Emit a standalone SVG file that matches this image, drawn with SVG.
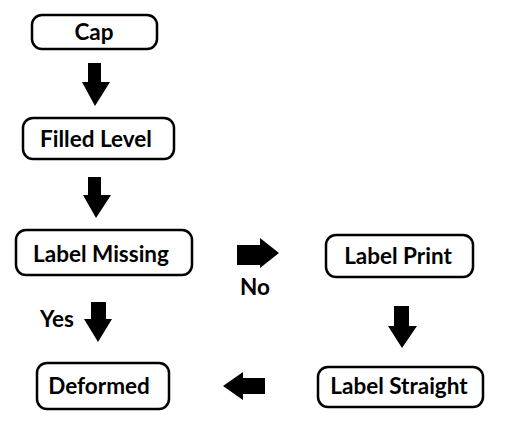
<svg xmlns="http://www.w3.org/2000/svg" width="511" height="445" viewBox="0 0 511 445">
<style>
.box{fill:#fff;stroke:#000;stroke-width:2.5}
.t{font-family:Lato,"Open Sans","Liberation Sans",sans-serif;font-weight:bold;font-size:22.5px;fill:#000;text-anchor:middle}
.ar{fill:#000}
</style>
<rect width="511" height="445" fill="#fff"/>
<g id="cap"><rect class="box" x="32" y="15" width="125" height="34" rx="10"/><text class="t" x="94" y="40">Cap</text></g>
<g id="filled"><rect class="box" x="23" y="118" width="151" height="41" rx="10"/><text class="t" x="96" y="147">Filled Level</text></g>
<g id="missing"><rect class="box" x="16" y="230" width="176" height="45" rx="10"/><text class="t" x="101" y="262">Label Missing</text></g>
<g id="print"><rect class="box" x="326" y="235" width="147" height="42" rx="10"/><text class="t" x="398" y="264">Label Print</text></g>
<g id="straight"><rect class="box" x="318" y="367" width="165" height="40" rx="10"/><text class="t" x="399" y="394">Label Straight</text></g>
<g id="deformed"><rect class="box" x="37" y="363" width="132" height="46" rx="10"/><text class="t" x="99" y="394">Deformed</text></g>
<g id="connectors">
<polygon class="ar" points="88,63 101,63 101,82 110,82 95,106 82,82 88,82"/>
<polygon class="ar" points="88,177 101,177 101,195 111,195 96,218 83,195 88,195"/>
<polygon class="ar" points="91,302 106,302 106,319 112,319 98,342 84,319 91,319"/>
<polygon class="ar" points="394,306 409,306 409,326 417,326 402,348 388,326 394,326"/>
<polygon class="ar" points="237,245 260,245 260,238 279,253 260,268 260,265 237,265"/>
<polygon class="ar" points="265,378 243,378 243,372 223,386 243,400 243,394 265,394"/>
<text class="t" x="255" y="295">No</text>
<text class="t" x="57" y="327">Yes</text>
</g>
</svg>
